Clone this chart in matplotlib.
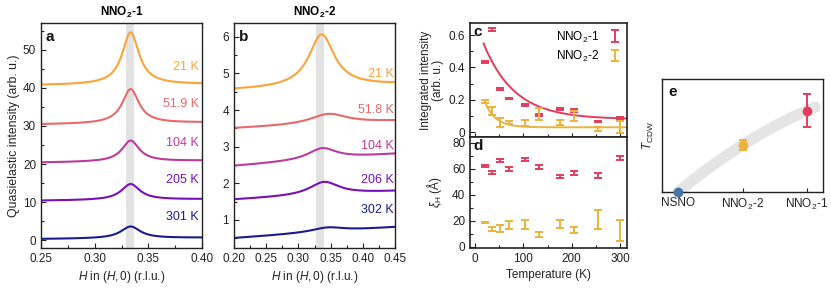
import matplotlib
matplotlib.use("Agg")
import matplotlib.pyplot as plt
import numpy as np
from matplotlib.ticker import MultipleLocator, FormatStrFormatter

plt.rcParams["font.family"] = ["Liberation Sans", "DejaVu Sans"]
plt.rcParams["mathtext.fontset"] = "custom"
plt.rcParams["mathtext.rm"] = "Liberation Sans"
plt.rcParams["mathtext.it"] = "Liberation Sans:italic"
plt.rcParams["mathtext.bf"] = "Liberation Sans:bold"
plt.rcParams["font.size"] = 8.5

# ---- panels a/b: Lorentzian fit curves, one per temperature ----
CURVE_COLORS = ["#fca33a", "#e8696c", "#bd3a9d", "#7611b6", "#1c1b8e"]

A_LABELS = ["21 K", "51.9 K", "104 K", "205 K", "301 K"]
A_BG_LEFT = [40.7, 30.4, 20.4, 10.4, 0.35]
A_BG_RIGHT = [40.95, 30.9, 20.9, 10.8, 0.7]
A_AMP = [13.7, 9.0, 5.5, 4.15, 3.1]
A_CENTER = [0.3335, 0.3335, 0.3335, 0.3335, 0.3335]
A_GAMMA = [0.0095, 0.0095, 0.0098, 0.0105, 0.011]
A_LABEL_Y = [45.5, 35.8, 25.5, 15.8, 6.1]

B_LABELS = ["21 K", "51.8 K", "104 K", "206 K", "302 K"]
B_BG_LEFT = [4.55, 3.5, 2.47, 1.55, 0.5]
B_BG_RIGHT = [4.7, 3.7, 2.8, 1.78, 0.8]
B_AMP = [1.44, 0.28, 0.31, 0.36, 0.12]
B_CENTER = [0.336, 0.347, 0.337, 0.340, 0.345]
B_GAMMA = [0.024, 0.035, 0.027, 0.028, 0.03]
B_LABEL_Y = [4.99, 4.0, 3.02, 2.1, 1.27]

# ---- panels c/d ----
TEMPS = [20, 35, 51, 71.5, 104, 133, 175, 205, 255, 300]
INT_1 = [0.433, 0.636, 0.267, 0.208, 0.167, 0.105, 0.142, 0.135, 0.065, 0.086]
INT_1_ERR = [0.004, 0.008, 0.004, 0.004, 0.004, 0.005, 0.005, 0.01, 0.005, 0.005]
INT_2 = [0.19, 0.13, 0.06, 0.062, 0.055, 0.11, 0.06, 0.10, 0.02, 0.033]
INT_2_ERR = [0.01, 0.025, 0.03, 0.01, 0.02, 0.037, 0.015, 0.03, 0.01, 0.036]
FIT_1 = (0.62, 64.0, 0.08)   # amplitude, decay (K), offset
FIT_2 = (0.40, 22.0, 0.03)

XI_1 = [62, 57, 66.5, 60, 67, 61.5, 54, 56.5, 55, 68]
XI_1_ERR = [0.7, 1, 1, 1.5, 1, 1.5, 1.3, 1.5, 2, 1.5]
XI_2 = [18.5, 13.5, 14, 17, 17, 9.5, 17.5, 13, 21, 12.5]
XI_2_ERR = [0.5, 1.5, 3, 3, 3.5, 2, 3, 2.5, 7, 8]

# ---- panel e ----
E_NAMES = ["NSNO", "NNO$_2$-2", "NNO$_2$-1"]
E_VALUES = [0.0, 0.416, 0.72]
E_ERR = [0.0, 0.044, 0.145]
E_COLORS = ["#4a74a8", "#e8b43c", "#e23c5e"]
GUIDE_X = [0, 0.25, 0.5, 0.75, 1.0, 1.25, 1.5, 1.75, 2.0, 2.13]
GUIDE_Y = [0, 0.115, 0.222, 0.323, 0.416, 0.503, 0.582, 0.655, 0.72, 0.751]

RED = "#e23c5e"
YELLOW = "#e8b43c"
TXT = "#222222"


def lorentz_curve(x, bg_l, bg_r, amp, x0, gam):
    bg = bg_l + (bg_r - bg_l) * (x - x[0]) / (x[-1] - x[0])
    return bg + amp / (1 + ((x - x0) / gam) ** 2)


def style_ax(ax, lw=1.0):
    for s in ax.spines.values():
        s.set_linewidth(lw)
        s.set_color("#222222")
    ax.tick_params(which="both", direction="in", colors=TXT, labelsize=8.5)
    ax.tick_params(which="major", length=3.5, width=0.8)
    ax.tick_params(which="minor", length=2, width=0.8)


def panel_label(ax, s, x=0.03, y=0.97):
    ax.text(x, y, s, transform=ax.transAxes, ha="left", va="top",
            fontsize=11, fontweight="bold", color="#111111")


fig = plt.figure(figsize=(8.31, 2.93), dpi=100)
W, H = 831, 293


def add_ax(l, r, t, b):
    return fig.add_axes([l / W, 1 - b / H, (r - l) / W, (b - t) / H])


ax_a = add_ax(41, 202, 23, 248)
ax_b = add_ax(234, 395, 23, 248)
ax_c = add_ax(470, 627, 23, 137)
ax_d = add_ax(470, 627, 137, 248)
ax_e = add_ax(662, 823, 79, 192)

# panel a
xa = np.linspace(0.25, 0.40, 400)
ax_a.axvspan(0.3295, 0.337, color="#e2e2e2", lw=0, zorder=0)
for i in range(5):
    ya = lorentz_curve(xa, A_BG_LEFT[i], A_BG_RIGHT[i], A_AMP[i], A_CENTER[i], A_GAMMA[i])
    ax_a.plot(xa, ya, color=CURVE_COLORS[i], lw=1.5)
    ax_a.text(0.397, A_LABEL_Y[i], A_LABELS[i], color=CURVE_COLORS[i], ha="right", va="center", fontsize=9)
ax_a.set_xlim(0.25, 0.40)
ax_a.set_ylim(-2, 57)
ax_a.xaxis.set_major_locator(MultipleLocator(0.05))
ax_a.xaxis.set_minor_locator(MultipleLocator(0.025))
ax_a.xaxis.set_major_formatter(FormatStrFormatter("%.2f"))
ax_a.yaxis.set_major_locator(MultipleLocator(10))
ax_a.yaxis.set_minor_locator(MultipleLocator(5))
style_ax(ax_a)
ax_a.set_xlabel("$H$ in $(H, 0)$ (r.l.u.)", fontsize=8.5, color=TXT, labelpad=3)
ax_a.set_ylabel("Quasielastic intensity (arb. u.)", fontsize=8.8, color=TXT, labelpad=2)
ax_a.set_title(r"NNO$_\mathbf{2}$-1", fontsize=8.5, fontweight="bold", pad=5)
panel_label(ax_a, "a")

# panel b
xb = np.linspace(0.20, 0.45, 400)
ax_b.axvspan(0.328, 0.3405, color="#e2e2e2", lw=0, zorder=0)
for i in range(5):
    yb = lorentz_curve(xb, B_BG_LEFT[i], B_BG_RIGHT[i], B_AMP[i], B_CENTER[i], B_GAMMA[i])
    ax_b.plot(xb, yb, color=CURVE_COLORS[i], lw=1.5)
    ax_b.text(0.448, B_LABEL_Y[i], B_LABELS[i], color=CURVE_COLORS[i], ha="right", va="center", fontsize=9)
ax_b.set_xlim(0.20, 0.45)
ax_b.set_ylim(0.23, 6.38)
ax_b.xaxis.set_major_locator(MultipleLocator(0.05))
ax_b.xaxis.set_minor_locator(MultipleLocator(0.025))
ax_b.xaxis.set_major_formatter(FormatStrFormatter("%.2f"))
ax_b.yaxis.set_major_locator(MultipleLocator(1))
ax_b.yaxis.set_minor_locator(MultipleLocator(0.5))
style_ax(ax_b)
ax_b.set_xlabel("$H$ in $(H, 0)$ (r.l.u.)", fontsize=8.5, color=TXT, labelpad=3)
ax_b.set_title(r"NNO$_\mathbf{2}$-2", fontsize=8.5, fontweight="bold", pad=5)
panel_label(ax_b, "b")

# panel c
eb_kw = dict(fmt="none", elinewidth=1.4, capsize=2.6, capthick=1.4)
h1 = ax_c.errorbar(TEMPS, INT_1, yerr=INT_1_ERR, ecolor=RED, label="NNO$_2$-1", **eb_kw)
h2 = ax_c.errorbar(TEMPS, INT_2, yerr=INT_2_ERR, ecolor=YELLOW, label="NNO$_2$-2", **eb_kw)
tc = np.linspace(18, 314, 300)
ax_c.plot(tc, FIT_1[0] * np.exp(-tc / FIT_1[1]) + FIT_1[2], color=RED, lw=1.4, zorder=1)
tc2 = np.linspace(20, 314, 300)
ax_c.plot(tc2, FIT_2[0] * np.exp(-tc2 / FIT_2[1]) + FIT_2[2], color=YELLOW, lw=1.4, zorder=1)
ax_c.set_xlim(-10, 314)
ax_c.set_ylim(-0.03, 0.675)
ax_c.xaxis.set_major_locator(MultipleLocator(100))
ax_c.xaxis.set_minor_locator(MultipleLocator(50))
ax_c.yaxis.set_major_locator(MultipleLocator(0.2))
ax_c.yaxis.set_minor_locator(MultipleLocator(0.1))
ax_c.yaxis.set_major_formatter(FormatStrFormatter("%g"))
style_ax(ax_c, lw=1.2)
ax_c.tick_params(axis="x", which="both", direction="inout", labelbottom=False)
ax_c.tick_params(axis="x", which="major", length=6)
ax_c.tick_params(axis="x", which="minor", length=4)
ax_c.set_ylabel("Integrated intensity\n(arb. u.)", fontsize=8.5, color=TXT, labelpad=3, linespacing=1.1)
ax_c.legend(handles=[h1, h2], loc="upper right", frameon=False, markerfirst=False,
            handlelength=1.0, handletextpad=0.8, borderaxespad=0.15, fontsize=8.5,
            labelspacing=0.35)
panel_label(ax_c, "c", x=0.02, y=0.98)

# panel d
ax_d.errorbar(TEMPS, XI_1, yerr=XI_1_ERR, ecolor=RED, **eb_kw)
ax_d.errorbar(TEMPS, XI_2, yerr=XI_2_ERR, ecolor=YELLOW, **eb_kw)
ax_d.set_xlim(-10, 314)
ax_d.set_ylim(-1, 84.5)
ax_d.xaxis.set_major_locator(MultipleLocator(100))
ax_d.xaxis.set_minor_locator(MultipleLocator(50))
ax_d.yaxis.set_major_locator(MultipleLocator(20))
ax_d.yaxis.set_minor_locator(MultipleLocator(10))
style_ax(ax_d, lw=1.2)
ax_d.set_xlabel("Temperature (K)", fontsize=8.5, color=TXT, labelpad=3)
ax_d.set_ylabel(r"$\xi_{\mathrm{H}}$ (Å)", fontsize=8.5, color=TXT, labelpad=6)
panel_label(ax_d, "d", x=0.02, y=0.98)

# panel e
ax_e.plot(GUIDE_X, GUIDE_Y, color="#e4e4e4", lw=8, solid_capstyle="round", zorder=1, clip_on=False)
for i in range(3):
    ax_e.errorbar(i, E_VALUES[i], yerr=E_ERR[i] if E_ERR[i] > 0 else None, fmt="o",
                  color=E_COLORS[i], ecolor=E_COLORS[i], ms=6, elinewidth=1.4,
                  capsize=3, capthick=1.4, clip_on=False, zorder=3)
ax_e.set_xlim(-0.25, 2.25)
ax_e.set_ylim(0, 1)
ax_e.set_xticks([0, 1, 2])
ax_e.set_xticklabels(E_NAMES)
ax_e.set_yticks([])
style_ax(ax_e)
ax_e.tick_params(axis="x", length=3, pad=3.5)
ax_e.set_ylabel(r"$T_{\mathrm{CDW}}$", fontsize=8.5, color=TXT, labelpad=4)
panel_label(ax_e, "e", x=0.04, y=0.95)

fig.savefig("out.png", dpi=100)
